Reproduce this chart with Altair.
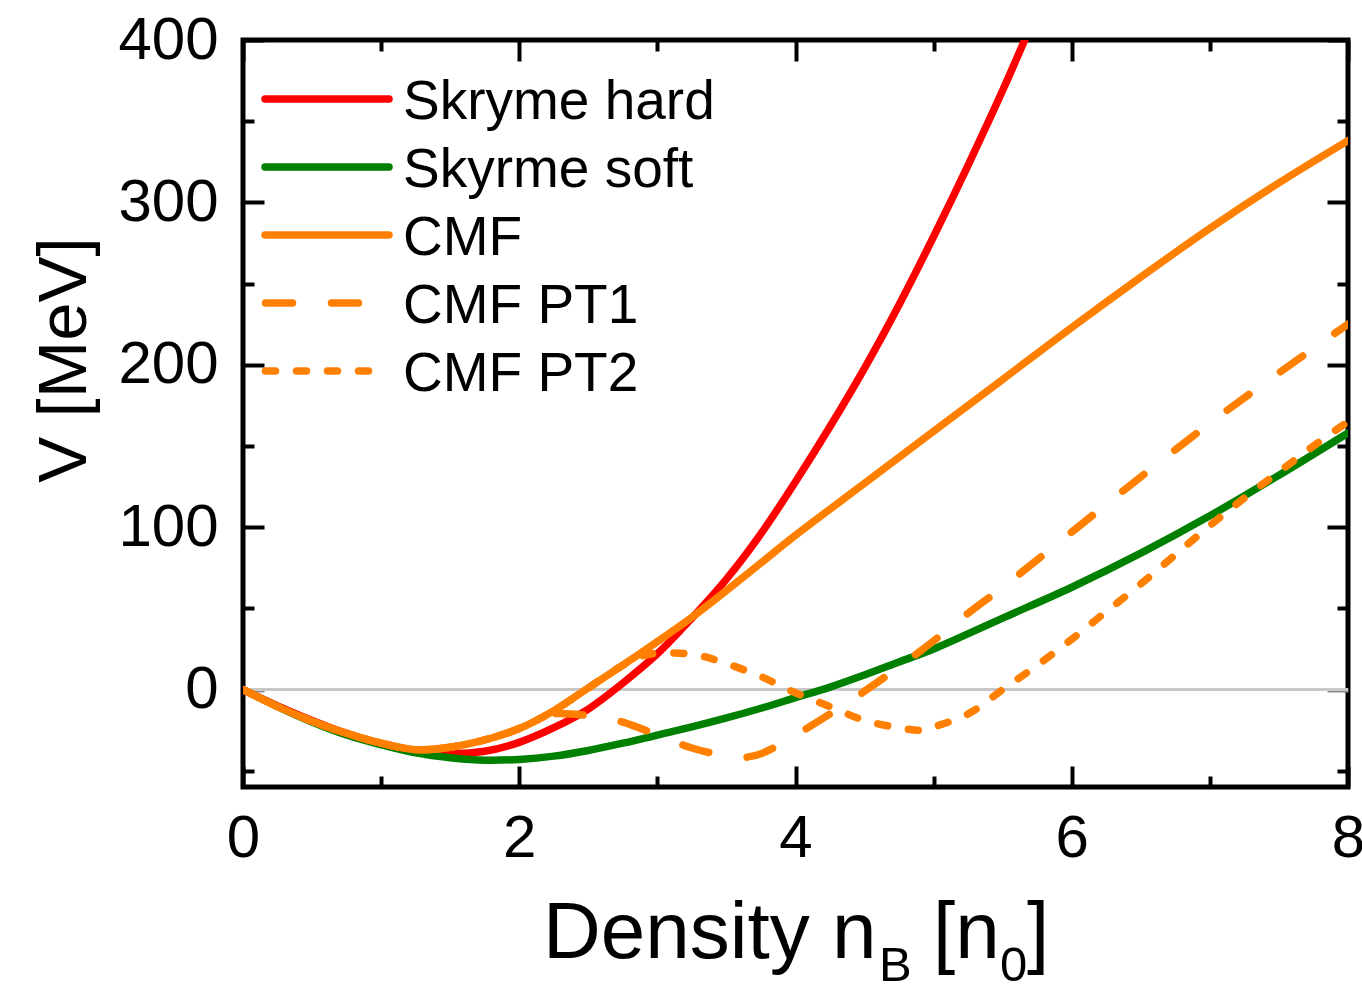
import altair as alt
import pandas as pd

FONT = "Liberation Sans"

# ---------------- data ----------------
series_names = ["Skryme hard", "Skyrme soft", "CMF", "CMF PT1", "CMF PT2"]
series_colors = ["#ff0000", "#008000", "#ff8000", "#ff8000", "#ff8000"]

hard_x = [0, 0.25, 0.5, 0.75, 1.0, 1.25, 1.5, 1.75, 2.0, 2.25, 2.5, 2.75, 3.0, 3.25,
          3.5, 3.75, 4.0, 4.25, 4.5, 4.75, 5.0, 5.25, 5.5, 5.75]
hard_y = [0, -10, -19, -27, -33.5, -37.5, -39.5, -38, -32.5, -23.5, -12, 4, 22, 44,
          68, 96, 128, 162, 198, 237, 279, 323, 369, 418]

soft_x = [0, 0.25, 0.5, 0.75, 1.0, 1.25, 1.5, 1.75, 2.0, 2.25, 2.5, 2.75, 3.0, 3.25,
          3.5, 3.75, 4.0, 4.25, 4.5, 4.75, 5.0, 5.5, 6.0, 6.5, 7.0, 7.5, 8.0]
soft_y = [0, -10.5, -20, -28, -34, -39, -42, -43.5, -43, -41, -37.5, -33, -28, -23,
          -17.5, -11.5, -5, 1.5, 9, 17, 25, 44, 63, 84, 107, 132, 158]

cmf_x = [0, 0.25, 0.5, 0.75, 1.0, 1.25, 1.5, 1.75, 2.0, 2.25, 2.5, 2.75, 3.0, 3.25,
         3.5, 3.75, 4.0, 4.5, 5.0, 5.5, 6.0, 6.5, 7.0, 7.5, 8.0]
cmf_y = [0, -10.5, -19.5, -27, -33, -37, -35.5, -31, -24, -13, 1, 15, 29.5, 44.5,
         61, 78, 95, 127, 159, 191, 223, 254, 284, 312, 338]

pt1_x = [0, 0.25, 0.5, 0.75, 1.0, 1.25, 1.5, 1.75, 2.0, 2.2, 2.5, 2.75, 3.0, 3.25,
         3.5, 3.6, 3.75, 4.0, 4.25, 4.5, 4.75, 5.0, 5.25, 5.5, 6.0, 6.5, 7.0, 7.5, 8.0]
pt1_y = [0, -10.5, -19.5, -27, -33, -37, -35.5, -31, -24, -15.5, -16, -20, -28, -36,
         -41, -42, -39.5, -28, -15, -1, 14, 30, 47, 63, 97, 131, 164, 195, 225]

pt2_x = [0, 0.25, 0.5, 0.75, 1.0, 1.25, 1.5, 1.75, 2.0, 2.25, 2.5, 2.75, 2.9, 3.1,
         3.3, 3.5, 3.75, 4.0, 4.25, 4.5, 4.75, 4.9, 5.0, 5.25, 5.5, 5.75, 6.0, 6.25,
         6.5, 6.75, 7.0, 7.25, 7.5, 7.75, 8.0]
pt2_y = [0, -10.5, -19.5, -27, -33, -37, -35.5, -31, -24, -13, 1, 15, 21, 22.5,
         21, 16, 8, -2, -10.5, -19, -23.5, -25, -23, -15, 0, 15, 31, 48,
         65, 83, 101, 118, 134, 150, 165]

x_major = [0, 2, 4, 6, 8]
x_minor = [1, 3, 5, 7]
y_major = [0, 100, 200, 300, 400]
y_minor = [-50, 50, 150, 250, 350]

# ---------------- styling ----------------
W, H = 1105, 747
LW = 7.5
dash_pt1 = [27, 39]
dash_pt2 = [10, 21]
series_dash = [None, None, None, dash_pt1, dash_pt2]

xscale = alt.Scale(domain=[0, 8], nice=False, zero=False)
yscale = alt.Scale(domain=[-60, 400], nice=False, zero=False)

MAJ, MIN = 21, 11
zero_tick_color = {"condition": {"test": "datum.value === 0", "value": "#8c8c8c"}, "value": "black"}


def ax(orient, values, size, labels=False, tick_color="black"):
    kw = dict(orient=orient, values=values, offset=-size, tickSize=size, tickWidth=4,
              tickColor=tick_color, domain=False, grid=False, title=None, labels=labels)
    if labels:
        kw.update(labelFont=FONT, labelFontSize=60, labelColor="black", labelFlush=False,
                  labelOverlap=False, format="d")
        kw["labelPadding"] = 22 if orient == "bottom" else 25
    return alt.Axis(**kw)


dummy = pd.DataFrame({"x": [0], "y": [0]})


def axis_layer(xaxis, yaxis):
    return alt.Chart(dummy).mark_point(opacity=0).encode(
        x=alt.X("x:Q", scale=xscale, axis=xaxis),
        y=alt.Y("y:Q", scale=yscale, axis=yaxis),
    )


layers = []
# zero reference line
layers.append(
    alt.Chart(pd.DataFrame({"y": [0]})).mark_rule(color="#c8c8c8", strokeWidth=3).encode(
        y=alt.Y("y:Q", scale=yscale, axis=None)
    )
)
# axes: major/minor ticks inward on all four sides
layers.append(axis_layer(ax("bottom", x_major, MAJ, labels=True),
                         ax("left", y_major, MAJ, labels=True, tick_color=zero_tick_color)))
layers.append(axis_layer(ax("bottom", x_minor, MIN), ax("left", y_minor, MIN)))
layers.append(axis_layer(ax("top", x_major, MAJ),
                         ax("right", y_major, MAJ, tick_color=zero_tick_color)))
layers.append(axis_layer(ax("top", x_minor, MIN), ax("right", y_minor, MIN)))

# data lines
curve_data = [(hard_x, hard_y), (soft_x, soft_y), (cmf_x, cmf_y), (pt1_x, pt1_y), (pt2_x, pt2_y)]
for (xs, ys), col, dsh in zip(curve_data, series_colors, series_dash):
    mk = dict(color=col, strokeWidth=LW, clip=True, interpolate="catmull-rom", strokeCap="round")
    if dsh:
        mk["strokeDash"] = dsh
    layers.append(
        alt.Chart(pd.DataFrame({"x": xs, "y": ys})).mark_line(**mk).encode(
            x=alt.X("x:Q", scale=xscale, axis=None),
            y=alt.Y("y:Q", scale=yscale, axis=None),
        )
    )

# legend (drawn manually, top-left inside the frame)
row_y = [59, 127, 195, 263, 331]
for name, col, dsh, ry in zip(series_names, series_colors, series_dash, row_y):
    mk = dict(color=col, strokeWidth=LW, strokeCap="round")
    x0 = 22
    if dsh:
        mk["strokeDash"] = dsh
        x0 = 22.5
    layers.append(alt.Chart(dummy).mark_rule(**mk).encode(
        x=alt.value(x0), x2=alt.value(146), y=alt.value(ry)))
    layers.append(alt.Chart(dummy).mark_text(
        text=name, align="left", baseline="alphabetic", font=FONT, fontSize=55, color="black"
    ).encode(x=alt.value(160), y=alt.value(ry + 19.5)))

# axis titles (with subscripts)
title_parts = [
    ("Density n", 300, 918, 80),
    ("B", 636, 941, 49),
    ("[n", 690, 918, 80),
    ("0", 757, 941, 49),
    ("]", 784, 918, 80),
]
for txt, tx, ty, fs in title_parts:
    layers.append(alt.Chart(dummy).mark_text(
        text=txt, align="left", baseline="alphabetic", font=FONT, fontSize=fs, color="black"
    ).encode(x=alt.value(tx), y=alt.value(ty)))

layers.append(alt.Chart(dummy).mark_text(
    text="V [MeV]", align="center", baseline="alphabetic", font=FONT, fontSize=69,
    color="black", angle=270
).encode(x=alt.value(-157), y=alt.value(320)))

chart = alt.layer(*layers).resolve_axis(x="independent", y="independent").properties(
    width=W, height=H,
    background="white",
    padding={"left": 243, "top": 40, "right": 14, "bottom": 204},
    autosize=alt.AutoSizeParams(type="none"),
).configure_view(stroke="black", strokeWidth=5)

chart.save("out.html", embed_options={"renderer": "svg", "actions": False})
